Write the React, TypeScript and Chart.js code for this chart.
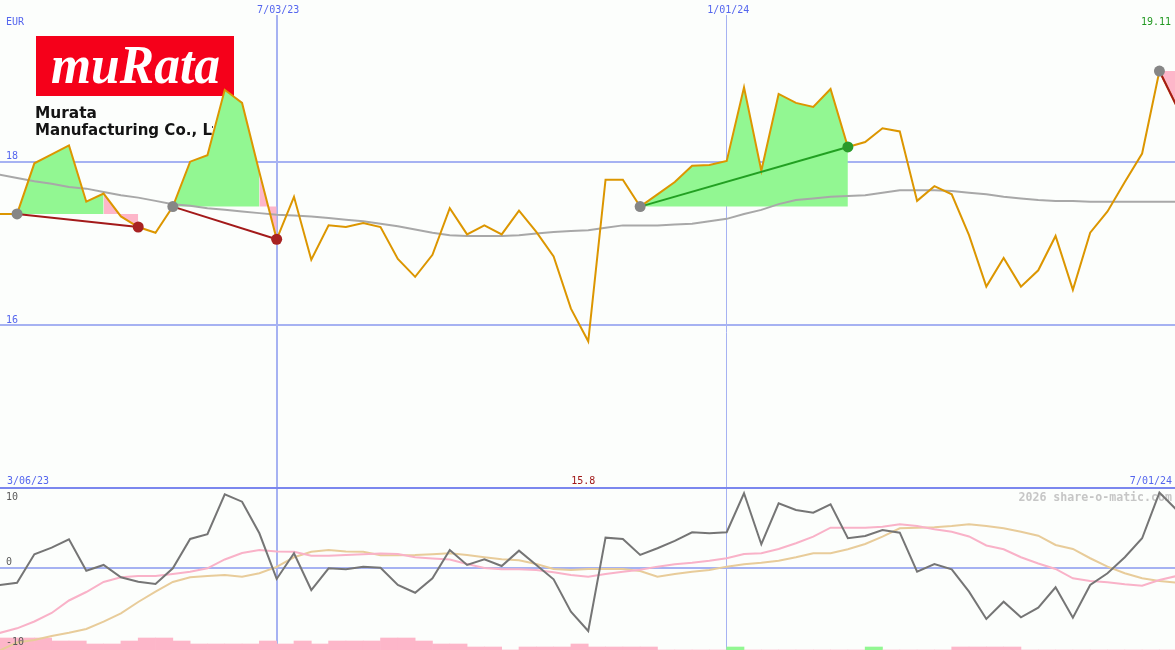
import React, { useEffect, useRef } from 'react';
import { Chart, registerables } from 'chart.js';

Chart.register(...registerables);

const W = 1175;
const H = 650;

// Weekly data. Week index 0 = 3/06/23, index 69 = 7/01/24.
const firstIndex = 1;
const rangeLabels = ['3/06/23', '7/01/24'];
const dateTickIndex = [17, 43];
const dateTickLabels = ['7/03/23', '1/01/24'];
const priceTicks = [18, 16];
const oscTicks = [10, 0, -10];
const currency = 'EUR';
const brand = 'muRata';
const companyName = ['Murata', 'Manufacturing Co., Ltd.'];
const watermark = '2026 share-o-matic.com';

const prices = [
  17.36, 17.36, 17.98, 18.09, 18.2, 17.51, 17.61, 17.33, 17.2, 17.13,
  17.45, 18.0, 18.08, 18.88, 18.72, 17.87, 17.05, 17.57, 16.8, 17.22,
  17.2, 17.25, 17.2, 16.81, 16.59, 16.86, 17.43, 17.11, 17.22, 17.11,
  17.4, 17.14, 16.84, 16.2, 15.8, 17.78, 17.78, 17.45, 17.6, 17.75,
  17.95, 17.96, 18.01, 18.91, 17.89, 18.83, 18.72, 18.67, 18.89, 18.18,
  18.24, 18.41, 18.37, 17.52, 17.7, 17.6, 17.1, 16.47, 16.82, 16.47,
  16.67, 17.09, 16.43, 17.13, 17.39, 17.75, 18.1, 19.11, 18.68,
];

const movingAvg = [
  17.84, 17.8, 17.76, 17.73, 17.69, 17.67, 17.63, 17.59, 17.56, 17.52,
  17.48, 17.46, 17.43, 17.41, 17.39, 17.37, 17.35, 17.34, 17.33, 17.31,
  17.29, 17.27, 17.24, 17.21, 17.17, 17.13, 17.1, 17.09, 17.09, 17.09,
  17.1, 17.12, 17.14, 17.15, 17.16, 17.19, 17.22, 17.22, 17.22, 17.23,
  17.24, 17.27, 17.3, 17.36, 17.41, 17.48, 17.53, 17.55, 17.57, 17.58,
  17.59, 17.62, 17.65, 17.65, 17.65, 17.64, 17.62, 17.6, 17.57, 17.55,
  17.53, 17.52, 17.52, 17.51, 17.51, 17.51, 17.51, 17.51, 17.51,
];

const oscFast = [
  -2.16, -1.88, 1.68, 2.5, 3.55, -0.38, 0.34, -1.2, -1.75, -2.04,
  -0.08, 3.59, 4.18, 9.18, 8.25, 4.3, -1.41, 1.8, -2.79, -0.08,
  -0.2, 0.13, 0.0, -2.16, -3.13, -1.33, 2.21, 0.34, 1.05, 0.21,
  2.13, 0.34, -1.45, -5.5, -7.91, 3.75, 3.59, 1.59, 2.43, 3.34,
  4.43, 4.3, 4.43, 9.3, 2.93, 8.05, 7.21, 6.88, 7.93, 3.68,
  3.96, 4.71, 4.38, -0.5, 0.46, -0.2, -3.0, -6.41, -4.25, -6.2,
  -5.0, -2.45, -6.25, -2.16, -0.7, 1.3, 3.68, 9.38, 7.21,
];

const oscSignal = [
  -8.16, -7.58, -6.73, -5.66, -4.1, -3.04, -1.79, -1.2, -1.04, -1.04,
  -0.79, -0.5, -0.08, 1.03, 1.84, 2.21, 2.03, 2.0, 1.5, 1.5,
  1.59, 1.68, 1.78, 1.71, 1.3, 1.15, 1.03, 0.46, -0.04, -0.2,
  -0.2, -0.29, -0.58, -0.91, -1.13, -0.79, -0.5, -0.25, 0.13, 0.43,
  0.63, 0.88, 1.18, 1.71, 1.8, 2.34, 3.05, 3.88, 5.0, 5.0,
  5.0, 5.13, 5.43, 5.21, 4.8, 4.5, 3.9, 2.78, 2.3, 1.3,
  0.53, -0.16, -1.33, -1.66, -1.83, -2.08, -2.25, -1.54, -1.04,
];

const oscSlow = [
  -10.35, -9.35, -9.04, -8.54, -8.13, -7.66, -6.75, -5.7, -4.29, -3.0,
  -1.79, -1.2, -1.04, -0.91, -1.13, -0.7, 0.09, 1.3, 2.0, 2.21,
  2.03, 2.0, 1.55, 1.55, 1.59, 1.68, 1.8, 1.59, 1.3, 1.05,
  0.93, 0.46, -0.16, -0.29, -0.16, -0.16, -0.16, -0.41, -1.13, -0.79,
  -0.5, -0.29, 0.13, 0.43, 0.63, 0.88, 1.3, 1.8, 1.8, 2.3,
  2.96, 3.88, 4.93, 5.0, 5.05, 5.21, 5.43, 5.21, 4.93, 4.5,
  4.0, 2.84, 2.34, 1.18, 0.13, -0.7, -1.33, -1.66, -1.88,
];

// one bar per week interval j..j+1 (j = 0..68); negative = pink, positive = green
const barLevels = [
  -4, -4, -4, -4, -3, -3, -2, -2, -3, -4,
  -4, -3, -2, -2, -2, -2, -3, -2, -3, -2,
  -3, -3, -3, -4, -4, -3, -2, -2, -1, -1,
  0, -1, -1, -1, -2, -1, -1, -1, -1, 0,
  0, 0, 0, 1, 0, 0, 0, 0, 0, 0,
  0, 1, 0, 0, 0, 0, -1, -1, -1, -1,
  0, 0, 0, 0, 0, 0, 0, 0, 0,
];

const trendStart = [2, 11, 38, 68];
const trendGainEnd = [7, 16, 50, 68];
const trendEnd = [9, 17, 50, 69];
const trendUp = [false, false, true, false];
const trendClosed = [true, true, true, false];

const C = {
  bg: '#fcfefc',
  grid: '#a6b2f2',
  sep: '#7b87ee',
  label: '#5566ee',
  oscLabel: '#5a5a5a',
  price: '#dc9600',
  ma: '#a8a8a8',
  oscFast: '#757575',
  oscSignal: '#f9b2c8',
  oscSlow: '#e8cc9a',
  green: '#92f792',
  pink: '#fdb6c9',
  trendDown: '#a31a1a',
  trendUpC: '#22a022',
  dotStart: '#868686',
  dotDown: '#a82222',
  dotUp: '#2a9a2a',
  maxLabel: '#229922',
  minLabel: '#a01818',
  watermark: '#c6c6c6',
};

const MONO = '"DejaVu Sans Mono", monospace';

const series = (arr: number[]) => arr.map((v, k) => ({ x: firstIndex + k, y: v }));
const priceAt = (i: number) => prices[i - firstIndex];
const range = (a: number, b: number) => {
  const out: number[] = [];
  for (let i = a; i <= b; i++) out.push(i);
  return out;
};

// draw text horizontally scaled so that the measured prefix spans targetWidth
function fitText(ctx: any, text: string, x: number, y: number, prefixLen: number, targetWidth: number) {
  const w = ctx.measureText(text.slice(0, prefixLen)).width;
  const sx = w > 0 ? targetWidth / w : 1;
  ctx.save();
  ctx.translate(x, y);
  ctx.scale(sx, 1);
  ctx.fillText(text, 0, 0);
  ctx.restore();
}

function buildConfig(): any {
  const datasets: any[] = [];

  datasets.push({
    type: 'bar',
    xAxisID: 'x',
    yAxisID: 'yBar',
    data: barLevels.map((v, j) => ({ x: j + 0.5, y: Math.abs(v) })),
    backgroundColor: barLevels.map((v) => (v > 0 ? C.green : C.pink)),
    borderWidth: 0,
    barPercentage: 1,
    categoryPercentage: 1,
    order: 100,
  });

  trendStart.forEach((s, k) => {
    const base = priceAt(s);
    const g = trendGainEnd[k];
    const e = trendEnd[k];
    if (g > s) {
      datasets.push({
        type: 'line',
        yAxisID: 'yMain',
        data: range(s, g).map((i) => ({ x: i, y: priceAt(i) })),
        borderColor: 'transparent',
        borderWidth: 0,
        pointRadius: 0,
        backgroundColor: C.green,
        fill: { value: base },
        order: 90,
      });
    }
    if (e > g) {
      datasets.push({
        type: 'line',
        yAxisID: 'yMain',
        data: range(g, e).map((i) => ({ x: i, y: priceAt(i) })),
        borderColor: 'transparent',
        borderWidth: 0,
        pointRadius: 0,
        backgroundColor: C.pink,
        fill: { value: base },
        order: 90,
      });
    }
  });

  datasets.push({
    type: 'line', yAxisID: 'yMain', data: series(movingAvg),
    borderColor: C.ma, borderWidth: 2, pointRadius: 0, fill: false, order: 80,
  });
  datasets.push({
    type: 'line', yAxisID: 'yOsc', data: series(oscSlow),
    borderColor: C.oscSlow, borderWidth: 2, pointRadius: 0, fill: false, order: 76,
  });
  datasets.push({
    type: 'line', yAxisID: 'yOsc', data: series(oscSignal),
    borderColor: C.oscSignal, borderWidth: 2, pointRadius: 0, fill: false, order: 75,
  });
  datasets.push({
    type: 'line', yAxisID: 'yOsc', data: series(oscFast),
    borderColor: C.oscFast, borderWidth: 2, pointRadius: 0, fill: false, order: 74,
  });
  datasets.push({
    type: 'line', yAxisID: 'yMain', data: series(prices),
    borderColor: C.price, borderWidth: 2, pointRadius: 0, fill: false, order: 70,
  });

  trendStart.forEach((s, k) => {
    const e = trendEnd[k];
    datasets.push({
      type: 'line', yAxisID: 'yMain',
      data: [{ x: s, y: priceAt(s) }, { x: e, y: priceAt(e) }],
      borderColor: trendUp[k] ? C.trendUpC : C.trendDown,
      borderWidth: 2, pointRadius: 0, fill: false, order: 60,
    });
  });

  const markers: any[] = [];
  const markerColors: string[] = [];
  trendStart.forEach((s, k) => {
    markers.push({ x: s, y: priceAt(s) });
    markerColors.push(C.dotStart);
    if (trendClosed[k]) {
      const e = trendEnd[k];
      markers.push({ x: e, y: priceAt(e) });
      markerColors.push(trendUp[k] ? C.dotUp : C.dotDown);
    }
  });
  datasets.push({
    type: 'line', yAxisID: 'yMain', data: markers, showLine: false,
    pointRadius: 5.5, pointBorderWidth: 0, pointBackgroundColor: markerColors,
    pointBorderColor: markerColors, fill: false, order: 50,
  });

  const decor = {
    id: 'decor',
    beforeDraw(chart: any) {
      const ctx = chart.ctx;
      ctx.save();
      ctx.fillStyle = C.bg;
      ctx.fillRect(0, 0, chart.width, chart.height);
      ctx.restore();
    },
    beforeDatasetsDraw(chart: any) {
      const ctx = chart.ctx;
      const x = chart.scales.x;
      const yMain = chart.scales.yMain;
      const yOsc = chart.scales.yOsc;
      ctx.save();
      // logo (cropped image area)
      ctx.save();
      ctx.beginPath();
      ctx.rect(34, 34, 179, 112);
      ctx.rect(34, 34, 201, 64);
      ctx.clip();
      ctx.fillStyle = '#f5001a';
      ctx.fillRect(36, 36, 198, 60);
      ctx.fillStyle = '#ffffff';
      ctx.font = 'italic bold 54px "Liberation Serif", serif';
      ctx.textAlign = 'left';
      ctx.textBaseline = 'alphabetic';
      fitText(ctx, brand, 51, 83, brand.length, 169);
      ctx.fillStyle = '#141414';
      ctx.font = 'bold 16px "DejaVu Sans", "Liberation Sans", sans-serif';
      fitText(ctx, companyName[0], 35, 118, companyName[0].length, 62);
      fitText(ctx, companyName[1], 35, 135, 20, 177);
      ctx.restore();

      // horizontal gridlines
      ctx.strokeStyle = C.grid;
      ctx.lineWidth = 2;
      priceTicks.forEach((v) => {
        const y = Math.round(yMain.getPixelForValue(v));
        ctx.beginPath();
        ctx.moveTo(0, y);
        ctx.lineTo(W, y);
        ctx.stroke();
      });
      const y0 = Math.round(yOsc.getPixelForValue(0));
      ctx.beginPath();
      ctx.moveTo(0, y0);
      ctx.lineTo(W, y0);
      ctx.stroke();

      // vertical date gridlines
      dateTickIndex.forEach((idx, k) => {
        const px = x.getPixelForValue(idx);
        ctx.lineWidth = k === 0 ? 2 : 1;
        const xx = k === 0 ? Math.round(px) : Math.floor(px) + 0.5;
        ctx.beginPath();
        ctx.moveTo(xx, 15);
        ctx.lineTo(xx, H);
        ctx.stroke();
      });

      // panel separator
      const ySep = Math.round(yOsc.getPixelForValue(oscTicks[0]));
      ctx.strokeStyle = C.sep;
      ctx.lineWidth = 2;
      ctx.beginPath();
      ctx.moveTo(0, ySep);
      ctx.lineTo(W, ySep);
      ctx.stroke();

      // watermark
      ctx.fillStyle = C.watermark;
      ctx.font = 'bold 11.6px ' + MONO;
      ctx.textAlign = 'right';
      ctx.textBaseline = 'alphabetic';
      ctx.fillText(watermark, 1172, ySep + 13);
      ctx.restore();
    },
    afterDatasetsDraw(chart: any) {
      const ctx = chart.ctx;
      const x = chart.scales.x;
      const yMain = chart.scales.yMain;
      const yOsc = chart.scales.yOsc;
      const ySep = yOsc.getPixelForValue(oscTicks[0]);
      ctx.save();
      ctx.font = '10px ' + MONO;
      ctx.textBaseline = 'alphabetic';

      ctx.fillStyle = C.label;
      ctx.textAlign = 'left';
      ctx.fillText(currency, 6, 25);
      priceTicks.forEach((v) => {
        ctx.fillText(String(v), 6, yMain.getPixelForValue(v) - 2.5);
      });
      ctx.textAlign = 'center';
      dateTickIndex.forEach((idx, k) => {
        ctx.fillText(dateTickLabels[k], x.getPixelForValue(idx) + 1.5, 13);
      });

      // max label
      const maxV = Math.max(...prices);
      ctx.fillStyle = C.maxLabel;
      ctx.textAlign = 'right';
      ctx.fillText(String(maxV), 1171, 25);

      // bottom header row
      const rowY = ySep - 4;
      ctx.fillStyle = C.label;
      ctx.textAlign = 'left';
      ctx.fillText(rangeLabels[0], 7, rowY);
      ctx.textAlign = 'right';
      ctx.fillText(rangeLabels[1], 1172, rowY);
      const minV = Math.min(...prices);
      const minIdx = prices.indexOf(minV) + firstIndex;
      ctx.fillStyle = C.minLabel;
      ctx.textAlign = 'center';
      ctx.fillText(String(minV), x.getPixelForValue(minIdx) - 5, rowY);

      // oscillator ticks
      ctx.fillStyle = C.oscLabel;
      ctx.textAlign = 'left';
      oscTicks.forEach((v) => {
        const yy = Math.max(yOsc.getPixelForValue(v) - 2.7, ySep + 12);
        ctx.fillText(String(v), 6, yy);
      });
      ctx.restore();
    },
  };

  return {
    type: 'line',
    data: { datasets },
    options: {
      animation: false,
      responsive: false,
      devicePixelRatio: 1,
      events: [],
      layout: { padding: 0, autoPadding: false },
      elements: { line: { tension: 0 } },
      plugins: { legend: { display: false }, tooltip: { enabled: false } },
      scales: {
        x: { type: 'linear', min: 1.015, max: 68.9, display: false, offset: false },
        yMain: { type: 'linear', min: 12.02, max: 19.98, display: false },
        yOsc: { type: 'linear', min: -10.29, max: 70.96, display: false },
        yBar: { type: 'linear', min: 0, max: H / 3, display: false },
      },
    },
    plugins: [decor],
  };
}

export default function App() {
  const ref = useRef<HTMLCanvasElement>(null);
  useEffect(() => {
    if (!ref.current) return;
    const chart = new Chart(ref.current, buildConfig());
    return () => chart.destroy();
  }, []);
  return (
    <div style={{ position: 'fixed', left: 0, top: 0, width: W, height: H, background: C.bg }}>
      <canvas ref={ref} width={W} height={H} style={{ display: 'block', width: W, height: H }} />
    </div>
  );
}
